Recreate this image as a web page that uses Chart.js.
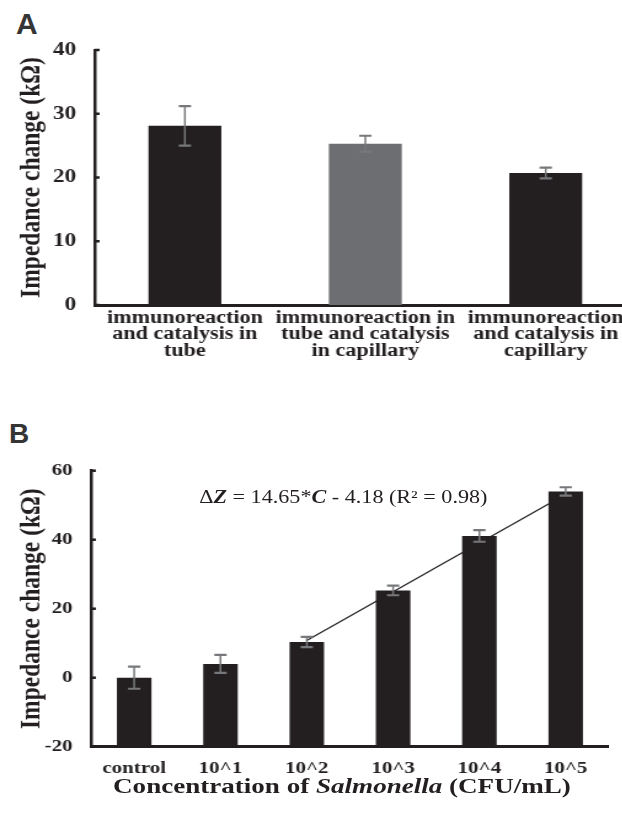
<!DOCTYPE html>
<html>
<head>
<meta charset="utf-8">
<script src="https://cdn.jsdelivr.net/npm/chart.js@4.4.1/dist/chart.umd.min.js"></script>
<style>
  html, body { margin: 0; padding: 0; background: #fff; width: 622px; height: 820px; overflow: hidden; }
  .panel { position: absolute; left: 0; transform: scaleX(1.23); transform-origin: 0 0; }
  .letter { position: absolute; font-family: 'Liberation Sans', Arial, sans-serif; font-weight: bold; color: #353535; }
  .serif { position: absolute; font-family: 'Liberation Serif', 'Times New Roman', serif; color: #231f20; white-space: nowrap; }
</style>
</head>
<body>
<div class="letter" style="left:16px; top:9px; font-size:30px; line-height:30px;">A</div>
<div class="letter" style="left:9px; top:420px; font-size:28px; line-height:28px;">B</div>

<div class="panel" style="top:0; width:517px; height:395px;">
  <canvas id="chartA" width="517" height="395"></canvas>
</div>

<div class="panel" style="top:400px; width:495px; height:420px;">
  <canvas id="chartB" width="495" height="420"></canvas>
  <div class="serif" style="left:162px; top:88px; font-size:18px; line-height:18px;">&Delta;<b><i>Z</i></b> = 14.65*<b><i>C</i></b> - 4.18 (R&sup2; = 0.98)</div>
  <div class="serif" style="left:78px; width:400px; text-align:center; top:375px; font-size:22px; line-height:22px; font-weight:bold;">Concentration of <i>Salmonella</i> (CFU/mL)</div>
</div>

<script>
/* global Chart */
var ink = '#231f20';
var serif = "'Liberation Serif', 'Times New Roman', serif";

// panel A
var groupsA = [
    ['immunoreaction', 'and catalysis in', 'tube'],
    ['immunoreaction in', 'tube and catalysis', 'in capillary'],
    ['immunoreaction', 'and catalysis in', 'capillary']
];
var impedanceA = [28.1, 25.3, 20.7];
var errorA = [3.1, 1.25, 0.85];
var barColorsA = [ink, '#6d6e71', ink];

// panel B
var concentrations = ['control', '10^1', '10^2', '10^3', '10^4', '10^5'];
var impedanceB = [0, 4.0, 10.35, 25.3, 41.1, 54.0];
var errorB = [3.2, 2.6, 1.5, 1.4, 1.7, 1.2];
var fitB = [null, null, 10.8, null, null, 53.2];

var errorBars = {
    id: 'errorBars',
    afterDatasetsDraw: function(chart) {
        var ctx = chart.ctx, y = chart.scales.y;
        chart.data.datasets.forEach(function(ds, i) {
            if (!ds.errors) return;
            var meta = chart.getDatasetMeta(i);
            meta.data.forEach(function(bar, j) {
                var v = ds.data[j], e = ds.errors[j];
                var top = y.getPixelForValue(v + e), bot = y.getPixelForValue(v - e);
                ctx.save();
                ctx.strokeStyle = '#77787b';
                ctx.lineWidth = 1.5;
                ctx.beginPath();
                ctx.moveTo(bar.x, top);
                ctx.lineTo(bar.x, bot);
                ctx.stroke();
                ctx.lineWidth = 2.2;
                ctx.beginPath();
                ctx.moveTo(bar.x - 5, top);
                ctx.lineTo(bar.x + 5, top);
                ctx.moveTo(bar.x - 5, bot);
                ctx.lineTo(bar.x + 5, bot);
                ctx.stroke();
                ctx.restore();
            });
        });
    }
};

var innerTicks = {
    id: 'innerTicks',
    afterDraw: function(chart) {
        var ctx = chart.ctx, y = chart.scales.y, left = chart.chartArea.left;
        ctx.save();
        ctx.strokeStyle = ink;
        ctx.lineWidth = 2.5;
        y.ticks.forEach(function(t) {
            var py = y.getPixelForValue(t.value);
            ctx.beginPath();
            ctx.moveTo(left, py);
            ctx.lineTo(left + 4, py);
            ctx.stroke();
        });
        ctx.restore();
    }
};

function yTitle(size) {
    return { display: true, text: 'Impedance change (k\u03A9)', color: ink,
        font: { family: serif, size: size, weight: 'bold', lineHeight: 1.2 },
        padding: { top: 12, bottom: 0 } };
}

new Chart(document.getElementById('chartA'), {
    type: 'bar',
    data: {
        labels: groupsA,
        datasets: [{
            data: impedanceA,
            errors: errorA,
            backgroundColor: barColorsA,
            barPercentage: 0.404,
            categoryPercentage: 1
        }]
    },
    options: {
        responsive: false,
        animation: false,
        layout: { padding: { top: 50, left: 0, right: 0, bottom: 0 } },
        plugins: { legend: { display: false }, tooltip: { enabled: false } },
        scales: {
            x: {
                grid: { display: false, drawTicks: false },
                border: { color: ink, width: 3 },
                ticks: { color: ink, padding: 5, maxRotation: 0, autoSkip: false,
                    font: { family: serif, size: 18, weight: 'bold', lineHeight: 0.92 } },
                afterFit: function(s) { s.height = 90; }
            },
            y: {
                min: 0, max: 40,
                grid: { display: false, drawTicks: false },
                border: { color: ink, width: 2.5 },
                ticks: { stepSize: 10, color: ink, padding: 15,
                    font: { family: serif, size: 19, weight: 'bold' } },
                title: yTitle(23.5),
                afterFit: function(s) { s.width = 77; }
            }
        }
    },
    plugins: [errorBars, innerTicks]
});

new Chart(document.getElementById('chartB'), {
    type: 'bar',
    data: {
        labels: concentrations,
        datasets: [{
            type: 'line',
            data: fitB,
            spanGaps: true,
            borderColor: ink,
            borderWidth: 1.2,
            pointRadius: 0,
            fill: false,
            order: 2
        }, {
            data: impedanceB,
            errors: errorB,
            base: -20,
            backgroundColor: ink,
            barPercentage: 0.40,
            categoryPercentage: 1,
            order: 1
        }]
    },
    options: {
        responsive: false,
        animation: false,
        layout: { padding: { top: 70.7, left: 0, right: 0, bottom: 0 } },
        plugins: { legend: { display: false }, tooltip: { enabled: false } },
        scales: {
            x: {
                grid: { display: false, drawTicks: false },
                border: { color: ink, width: 3 },
                ticks: { color: ink, padding: 12, maxRotation: 0, autoSkip: false,
                    font: { family: serif, size: 17, weight: 'bold' } },
                afterFit: function(s) { s.height = 73.3; }
            },
            y: {
                min: -20, max: 60,
                grid: { display: false, drawTicks: false },
                border: { color: ink, width: 2.5 },
                ticks: { stepSize: 20, color: ink, padding: 15,
                    font: { family: serif, size: 17, weight: 'bold' } },
                title: yTitle(23.5),
                afterFit: function(s) { s.width = 74; }
            }
        }
    },
    plugins: [errorBars, innerTicks]
});
</script>
</body>
</html>
